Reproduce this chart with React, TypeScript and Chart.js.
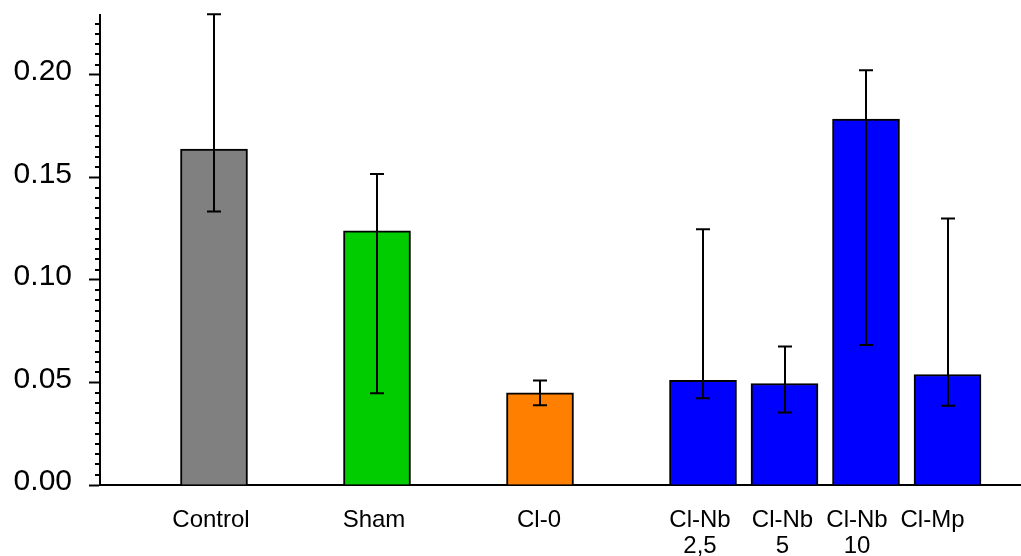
import React, { useEffect, useRef } from "react";
import { Chart, registerables } from "chart.js";

Chart.register(...registerables);

// Groups, their positions along the x axis (gaps separate the Cl-Nb/Cl-Mp block)
const categories: (string | string[])[] = [
  "Control",
  "Sham",
  "Cl-0",
  ["Cl-Nb", "2,5"],
  ["Cl-Nb", "5"],
  ["Cl-Nb", "10"],
  "Cl-Mp",
];
const positions = [1, 3, 5, 7, 8, 9, 10];

// Means and error-bar bounds
const means = [0.1638, 0.1239, 0.0449, 0.0511, 0.0495, 0.1784, 0.0539];
const upperBounds = [0.2296, 0.1517, 0.0509, 0.1247, 0.0675, 0.2023, 0.13];
const lowerBounds = [0.1334, 0.0447, 0.0389, 0.0423, 0.0353, 0.0683, 0.0387];

const barColors = ["#808080", "#00CC00", "#FF8000", "#0000FF", "#0000FF", "#0000FF", "#0000FF"];

// Y axis tick values
const yMax = 0.2292;
const majorStep = 0.05;
const minorStep = 0.005;

const FONT = "'Liberation Sans', Arial, Helvetica, sans-serif";

// Horizontal nudge (px) of each category label relative to its bar centre
const labelNudgePx = [-3, -3, -1, -3, -2, -9, -15];
const PX_PER_UNIT = 81.5;

const isMajor = (v: number) => Math.abs(Math.round(v / majorStep) * majorStep - v) < 1e-9;

const minorTicksPlugin = {
  id: "minorTicks",
  afterDraw(chart: any) {
    const y = chart.scales.y;
    const ctx = chart.ctx;
    ctx.save();
    ctx.strokeStyle = "#000";
    ctx.lineWidth = 2;
    for (const t of y.ticks) {
      if (isMajor(t.value)) continue;
      const py = Math.round(y.getPixelForValue(t.value));
      ctx.beginPath();
      ctx.moveTo(y.right - 5, py);
      ctx.lineTo(y.right, py);
      ctx.stroke();
    }
    ctx.restore();
  },
};

const errorBarsPlugin = {
  id: "errorBars",
  afterDatasetsDraw(chart: any) {
    const x = chart.scales.x;
    const y = chart.scales.y;
    const ctx = chart.ctx;
    const cap = 7;
    ctx.save();
    ctx.strokeStyle = "#000";
    ctx.lineWidth = 2;
    positions.forEach((p, i) => {
      const px = Math.round(x.getPixelForValue(p));
      const top = y.getPixelForValue(upperBounds[i]);
      const bottom = y.getPixelForValue(lowerBounds[i]);
      ctx.beginPath();
      ctx.moveTo(px, top);
      ctx.lineTo(px, bottom);
      ctx.moveTo(px - cap, top);
      ctx.lineTo(px + cap, top);
      ctx.moveTo(px - cap, bottom);
      ctx.lineTo(px + cap, bottom);
      ctx.stroke();
    });
    ctx.restore();
  },
};

export default function App() {
  const canvasRef = useRef<HTMLCanvasElement | null>(null);

  useEffect(() => {
    document.body.style.margin = "0";
    const canvas = canvasRef.current;
    if (!canvas) return;

    const chart = new Chart(canvas, {
      type: "bar",
      data: {
        datasets: [
          {
            data: positions.map((p, i) => ({ x: p, y: means[i] })),
            backgroundColor: barColors,
            borderColor: "#000",
            borderWidth: 2,
            borderSkipped: "bottom",
            barThickness: 67,
          },
        ],
      },
      options: {
        animation: false,
        responsive: false,
        devicePixelRatio: 1,
        layout: { padding: { top: 15, left: 0, right: 0, bottom: 0 } },
        plugins: {
          legend: { display: false },
          tooltip: { enabled: false },
        },
        scales: {
          x: {
            type: "linear",
            offset: false,
            min: 1 - 114 / PX_PER_UNIT,
            max: 1 + 807 / PX_PER_UNIT,
            grid: { display: false, drawTicks: false },
            border: { display: true, color: "#000", width: 2 },
            afterBuildTicks: (scale: any) => {
              scale.ticks = positions.map((p, i) => ({ value: p + labelNudgePx[i] / PX_PER_UNIT }));
            },
            afterFit: (scale: any) => {
              scale.height = 71;
              scale.paddingLeft = 0;
              scale.paddingRight = 0;
            },
            ticks: {
              autoSkip: false,
              maxRotation: 0,
              padding: 22,
              color: "#000",
              font: { family: FONT, size: 24, lineHeight: 1.1 },
              callback: (_value: any, index: number) => categories[index] as any,
            },
          },
          y: {
            type: "linear",
            min: 0,
            max: yMax,
            grid: {
              drawOnChartArea: false,
              drawTicks: true,
              tickLength: 11,
              tickWidth: 2,
              tickColor: (ctx: any) =>
                ctx.tick && isMajor(ctx.tick.value) ? "#000" : "rgba(0,0,0,0)",
            },
            border: { display: true, color: "#000", width: 2 },
            afterFit: (scale: any) => {
              scale.width = 100;
              scale.paddingTop = 0;
              scale.paddingBottom = 0;
            },
            ticks: {
              stepSize: minorStep,
              includeBounds: false,
              autoSkip: false,
              padding: 17,
              labelOffset: -3,
              color: "#000",
              font: { family: FONT, size: 30 },
              callback: (value: any) => (isMajor(Number(value)) ? Number(value).toFixed(2) : ""),
            },
          },
        },
      } as any,
      plugins: [minorTicksPlugin, errorBarsPlugin],
    });

    return () => chart.destroy();
  }, []);

  return (
    <div style={{ width: 1021, height: 556, background: "#fff" }}>
      <canvas ref={canvasRef} width={1021} height={556} />
    </div>
  );
}
